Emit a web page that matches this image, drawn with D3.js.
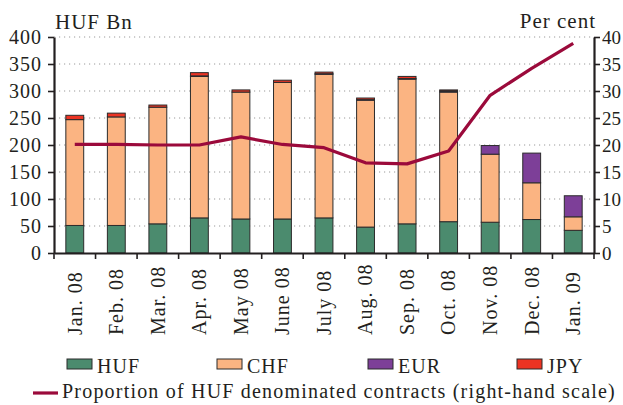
<!DOCTYPE html>
<html>
<head>
<meta charset="utf-8">
<script src="https://cdn.jsdelivr.net/npm/d3@7"></script>
<style>
html,body{margin:0;padding:0;background:#fff;}
svg{display:block;}
text{font-family:"Liberation Serif","Times New Roman",serif;fill:#231f20;}
</style>
</head>
<body>
<svg id="chart" width="623" height="405"></svg>
<script>
const categories = ["Jan. 08","Feb. 08","Mar. 08","Apr. 08","May 08","June 08","July 08","Aug. 08","Sep. 08","Oct. 08","Nov. 08","Dec. 08","Jan. 09"];
const HUF = [51,51,54,65,63,63,65,48,54,58,57,62,42];
const CHF = [196,201,216,262,235,253,266,235,268,240,126,68,25];
const EUR = [0,0,0,1,0,0,1,1,1,2,16,55,39];
const JPY = [8,7,4,6,4,4,3,3,4,2,0,0,0];
const hufShare = [20.1,20.1,20.0,20.0,21.5,20.1,19.5,16.7,16.5,18.9,29.2,34.2,38.8];
const leftTicks = [0,50,100,150,200,250,300,350,400];
const rightTicks = [0,5,10,15,20,25,30,35,40];

const seriesNames = ["HUF","CHF","EUR","JPY"];
const colors = {HUF:"#4b8b6e",CHF:"#fbb482",EUR:"#7d3f98",JPY:"#ec3323"};
const lineColor = "#9b0a3b";

const svg = d3.select("#chart");
const x0 = 54, x1 = 594, yTop = 37, yBot = 253;

const x = d3.scaleBand().domain(categories).range([x0,x1]).paddingInner(0).paddingOuter(0);
const y = d3.scaleLinear().domain([0,400]).range([yBot,yTop]);
const yR = d3.scaleLinear().domain([0,40]).range([yBot,yTop]);

// grid
svg.append("g").selectAll("line").data(leftTicks.filter(d=>d>0)).join("line")
  .attr("x1",x0).attr("x2",x1).attr("y1",d=>y(d)).attr("y2",d=>y(d))
  .attr("stroke","#9a9a9a").attr("stroke-width",1).attr("stroke-dasharray","1.2,3.8");

// stacked bars
const table = categories.map((c,i)=>({cat:c,HUF:HUF[i],CHF:CHF[i],EUR:EUR[i],JPY:JPY[i]}));
const stack = d3.stack().keys(seriesNames)(table);
const bw = x.bandwidth()*0.43;
svg.append("g").selectAll("g").data(stack).join("g")
  .attr("fill",d=>colors[d.key])
  .selectAll("rect").data(d=>d.filter(p=>p[1]-p[0]>0)).join("rect")
  .attr("x",d=>x(d.data.cat)+(x.bandwidth()-bw)/2)
  .attr("width",bw)
  .attr("y",d=>y(d[1]))
  .attr("height",d=>y(d[0])-y(d[1]))
  .attr("stroke","#2b2b2b").attr("stroke-width",1);

// line
const line = d3.line().x((d,i)=>x(categories[i])+x.bandwidth()/2).y(d=>yR(d));
svg.append("path").datum(hufShare).attr("d",line)
  .attr("fill","none").attr("stroke",lineColor).attr("stroke-width",3.2).attr("stroke-linejoin","round");

// axes
const axisStyle = (g,size,ls) => {
  g.select(".domain").attr("stroke","#231f20").attr("stroke-width",2.2);
  g.selectAll(".tick line").attr("stroke","#231f20").attr("stroke-width",1.6);
  g.selectAll(".tick text").style("font-family",'"Liberation Serif",serif').style("font-size",size).style("letter-spacing",ls).attr("fill","#231f20");
};
const gl = svg.append("g").attr("transform",`translate(${x0},0)`)
  .call(d3.axisLeft(y).tickValues(leftTicks).tickSize(6).tickSizeOuter(0).tickPadding(6).tickFormat(d3.format("d")));
axisStyle(gl,"20px","1px");

const gr = svg.append("g").attr("transform",`translate(${x1},0)`)
  .call(d3.axisRight(yR).tickValues(rightTicks).tickSize(6).tickSizeOuter(0).tickPadding(2).tickFormat(d3.format("d")));
axisStyle(gr,"19px","0px");

const gb = svg.append("g").attr("transform",`translate(0,${yBot})`)
  .call(d3.axisBottom(x).tickSize(0).tickSizeOuter(0).tickFormat(""));
gb.select(".domain").attr("stroke","#231f20").attr("stroke-width",2.2);
// band boundary ticks
const boundaries = d3.range(categories.length+1).map(i=>x0+i*x.step());
svg.append("g").selectAll("line").data(boundaries).join("line")
  .attr("x1",d=>d).attr("x2",d=>d).attr("y1",yBot).attr("y2",yBot+6)
  .attr("stroke","#231f20").attr("stroke-width",1.6);

// x labels
svg.append("g").selectAll("text").data(categories).join("text")
  .attr("transform",d=>`translate(${x(d)+x.bandwidth()/2},335) rotate(-90)`)
  .attr("dy","0.34em").attr("text-anchor","start")
  .style("font-size","20px").style("letter-spacing","1px")
  .text(d=>d);

// axis titles
svg.append("text").attr("x",55).attr("y",29).style("font-size","21px").style("letter-spacing","1px").text("HUF Bn");
svg.append("text").attr("x",596).attr("y",28).attr("text-anchor","end").style("font-size","21px").style("letter-spacing","1px").text("Per cent");

// legend
const legX = [67,217,368,517];
const leg = svg.append("g").selectAll("g").data(seriesNames).join("g")
  .attr("transform",(d,i)=>`translate(${legX[i]},359)`);
leg.append("rect").attr("width",25).attr("height",10).attr("fill",d=>colors[d]).attr("stroke","#2b2b2b").attr("stroke-width",1);
leg.append("text").attr("x",30).attr("y",13.5).style("font-size","20px").style("letter-spacing","1px").text(d=>d);

svg.append("line").attr("x1",33).attr("x2",58).attr("y1",393).attr("y2",393).attr("stroke",lineColor).attr("stroke-width",3.2);
svg.append("text").attr("x",62).attr("y",398).style("font-size","20px").style("letter-spacing","1.2px")
  .text("Proportion of HUF denominated contracts (right-hand scale)");
</script>
</body>
</html>
